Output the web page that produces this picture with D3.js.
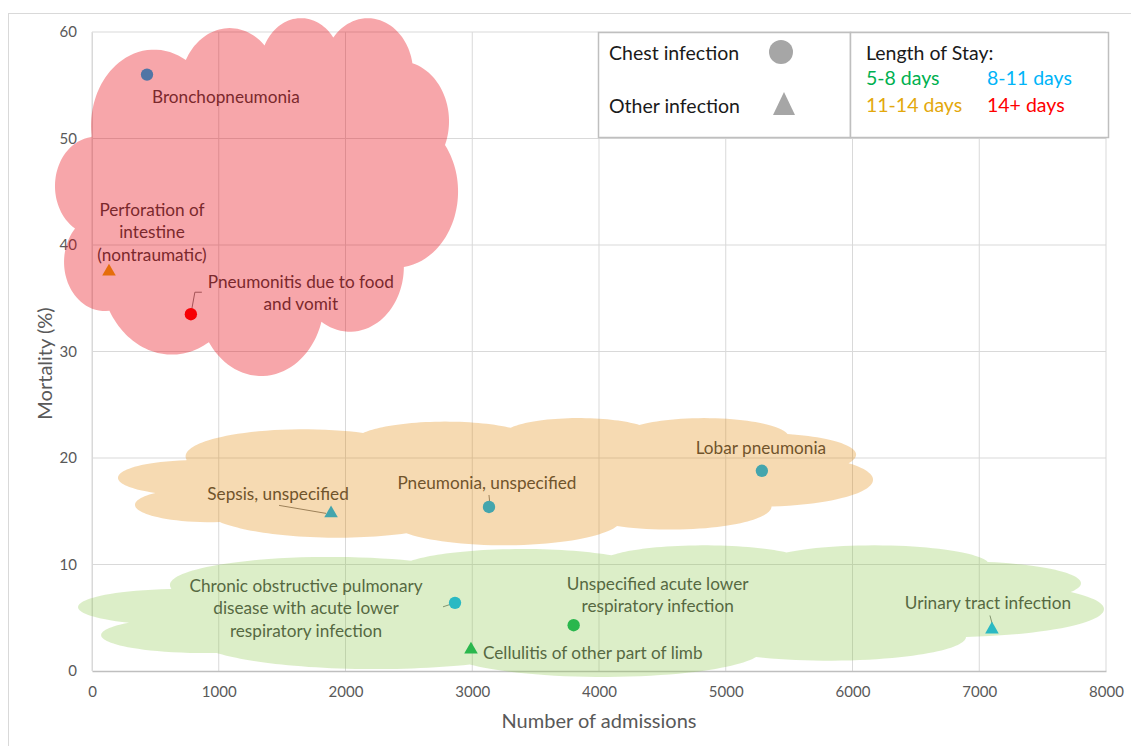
<!DOCTYPE html>
<html>
<head>
<meta charset="utf-8">
<script src="https://cdn.jsdelivr.net/npm/d3@7"></script>
<style>
  body { margin: 0; background: #fff; }
  text { font-family: Lato, "Open Sans", sans-serif; }
</style>
</head>
<body>
<script>
// data
const diagnoses = ["Bronchopneumonia", "Perforation of intestine (nontraumatic)", "Pneumonitis due to food and vomit",
  "Lobar pneumonia", "Pneumonia, unspecified", "Sepsis, unspecified",
  "Chronic obstructive pulmonary disease with acute lower respiratory infection",
  "Unspecified acute lower respiratory infection", "Urinary tract infection", "Cellulitis of other part of limb"];
const admissions = [434, 134, 780, 5285, 3132, 1886, 2864, 3800, 7100, 2990];
const mortality = [56.0, 37.5, 33.5, 18.8, 15.4, 14.8, 6.4, 4.3, 3.9, 2.0];
const infection = ["chest", "other", "chest", "chest", "chest", "other", "chest", "chest", "other", "other"];
const stay = ["8-11 days", "11-14 days", "14+ days", "8-11 days", "8-11 days", "8-11 days", "8-11 days", "5-8 days", "8-11 days", "5-8 days"];

const stayBands = ["5-8 days", "8-11 days", "11-14 days", "14+ days"];
const stayColors = ["#00B050", "#00B4F8", "#E3A80C", "#FF0000"];
const xTicks = [0, 1000, 2000, 3000, 4000, 5000, 6000, 7000, 8000];
const yTicks = [0, 10, 20, 30, 40, 50, 60];

// cloud bands drawn over the points (extent in data units)
const cloudX0 = [-292, 205, -110];
const cloudX1 = [2888, 6162, 7984];
const cloudY0 = [27.7, 11.8, -0.56];
const cloudY1 = [61.3, 23.75, 11.8];
const cloudFill = ["#E8000C", "#E08400", "#8AC648"];
const cloudAlpha = [0.35, 0.3, 0.3];

// label layout: offsets from each point in px
const labelLayout = [
  {lines: ["Bronchopneumonia"], dx: 5, dy: [22], anchor: "start"},
  {lines: ["Perforation of", "intestine", "(nontraumatic)"], dx: 43, dy: [-62, -40, -17], anchor: "middle"},
  {lines: ["Pneumonitis due to food", "and vomit"], dx: 110, dy: [-33, -11], anchor: "middle", leader: [[0, 0], [4, -22], [11, -22]]},
  {lines: ["Lobar pneumonia"], dx: -1, dy: [-23], anchor: "middle"},
  {lines: ["Pneumonia, unspecified"], dx: -2, dy: [-24], anchor: "middle", leader: [[0, -12], [1, -2]]},
  {lines: ["Sepsis, unspecified"], dx: -53, dy: [-20], anchor: "middle", leader: [[-52, -8], [-5, 0]]},
  {lines: ["Chronic obstructive pulmonary", "disease with acute lower", "respiratory infection"], dx: -149, dy: [-17, 5, 28], anchor: "middle", leader: [[-12, 4], [-3, 1]]},
  {lines: ["Unspecified acute lower", "respiratory infection"], dx: 84, dy: [-42, -20], anchor: "middle"},
  {lines: ["Urinary tract infection"], dx: -4, dy: [-27], anchor: "middle", leader: [[-2, -14], [1, -3]]},
  {lines: ["Cellulitis of other part of limb"], dx: 12, dy: [3], anchor: "start"}
];

const svgWidth = 1131, svgHeight = 746;
const plotLeft = 92, plotRight = 1106, plotTop = 32, plotBottom = 671;

const svg = d3.select("body").append("svg")
  .attr("width", svgWidth)
  .attr("height", svgHeight);

// outer chart border
svg.append("rect")
  .attr("x", 8.5).attr("y", 13.5)
  .attr("width", 1140).attr("height", 760)
  .attr("fill", "none").attr("stroke", "#D9D9D9");

const xScale = d3.scaleLinear().domain([0, 8000]).range([plotLeft, plotRight]);
const yScale = d3.scaleLinear().domain([0, 60]).range([plotBottom, plotTop]);
const stayColor = d3.scaleOrdinal().domain(stayBands).range(stayColors);

// grid
svg.append("g").selectAll("line").data(xTicks).join("line")
  .attr("x1", d => xScale(d)).attr("x2", d => xScale(d))
  .attr("y1", plotTop).attr("y2", plotBottom)
  .attr("stroke", "#D9D9D9");
svg.append("g").selectAll("line").data(yTicks.slice(1)).join("line")
  .attr("x1", plotLeft).attr("x2", plotRight)
  .attr("y1", d => yScale(d)).attr("y2", d => yScale(d))
  .attr("stroke", "#D9D9D9");

// axes
const xAxis = svg.append("g")
  .attr("transform", "translate(0," + plotBottom + ")")
  .call(d3.axisBottom(xScale).tickValues(xTicks).tickSize(0).tickPadding(15).tickFormat(d3.format("d")));
xAxis.select(".domain").attr("stroke", "#BFBFBF").attr("stroke-width", 1.5);
const yAxis = svg.append("g")
  .attr("transform", "translate(" + plotLeft + ",0)")
  .call(d3.axisLeft(yScale).tickValues(yTicks).tickSize(0).tickPadding(15));
yAxis.select(".domain").attr("stroke", "#D9D9D9");
svg.selectAll(".tick text")
  .attr("fill", "#595959")
  .style("font-size", "15px")
  .style("font-family", "Lato, sans-serif");

svg.append("text")
  .attr("x", (plotLeft + plotRight) / 2).attr("y", 720)
  .attr("text-anchor", "middle").attr("dominant-baseline", "central")
  .attr("fill", "#595959").style("font-size", "20px")
  .text("Number of admissions");
svg.append("text")
  .attr("transform", "translate(44," + ((plotTop + plotBottom) / 2 + 12) + ") rotate(-90)")
  .attr("text-anchor", "middle").attr("dominant-baseline", "central")
  .attr("fill", "#595959").style("font-size", "20px")
  .text("Mortality (%)");

// labels and leader lines
const points = diagnoses.map((d, i) => ({
  name: d, x: xScale(admissions[i]), y: yScale(mortality[i]),
  type: infection[i], stay: stay[i], lay: labelLayout[i]
}));

points.forEach(p => {
  if (p.lay.leader) {
    svg.append("path")
      .attr("d", d3.line()(p.lay.leader.map(q => [p.x + q[0], p.y + q[1]])))
      .attr("fill", "none").attr("stroke", "#7F7F7F").attr("stroke-width", 1);
  }
  p.lay.lines.forEach((line, j) => {
    svg.append("text")
      .attr("x", p.x + p.lay.dx).attr("y", p.y + p.lay.dy[j])
      .attr("text-anchor", p.lay.anchor).attr("dominant-baseline", "central")
      .attr("fill", "#404040").style("font-size", "17.2px")
      .text(line);
  });
});

// markers
const triangle = d3.symbol().type(d3.symbolTriangle).size(80);
svg.append("g").selectAll("path").data(points).join("path")
  .attr("d", d => d.type === "chest" ? d3.symbol().type(d3.symbolCircle).size(120)() : triangle())
  .attr("transform", d => "translate(" + d.x + "," + d.y + ")")
  .attr("fill", d => stayColor(d.stay));

// cloud outline (office preset "cloud" geometry, 43200 units)
function cloudOutline() {
  const arcs = [[6753, 9190, -11429249, 7426832], [5333, 7267, -8646143, 5396714], [4365, 5945, -8748475, 5983381],
    [4857, 6595, -7859164, 7034504], [5333, 7273, -4722533, 6541615], [6775, 9220, -2776035, 7816140],
    [5785, 7867, 37501, 6842000], [6752, 9215, 1347096, 6910353], [7720, 10543, 3974558, 4542661],
    [4360, 5918, -16496525, 8804134], [4345, 5945, -14809710, 9151131]];
  let cx = 3900, cy = 14370;
  const pts = [[cx, cy]];
  arcs.forEach(([wR, hR, st, sw]) => {
    const a0 = st / 60000 * Math.PI / 180, a1 = (st + sw) / 60000 * Math.PI / 180;
    const par = a => Math.atan2(wR * Math.sin(a), hR * Math.cos(a));
    const t0 = par(a0);
    const ox = cx - wR * Math.cos(t0), oy = cy - hR * Math.sin(t0);
    const n = 40;
    for (let i = 1; i <= n; i++) {
      const t = par(a0 + (a1 - a0) * i / n);
      cx = ox + wR * Math.cos(t); cy = oy + hR * Math.sin(t);
      pts.push([cx, cy]);
    }
  });
  return pts;
}
const outline = cloudOutline();
const ox = d3.extent(outline, d => d[0]), oy = d3.extent(outline, d => d[1]);

cloudFill.forEach((c, i) => {
  const sx = d3.scaleLinear().domain(ox).range([xScale(cloudX0[i]), xScale(cloudX1[i])]);
  const sy = d3.scaleLinear().domain(oy).range([yScale(cloudY1[i]), yScale(cloudY0[i])]);
  svg.append("path")
    .attr("d", d3.line().x(d => sx(d[0])).y(d => sy(d[1])).curve(d3.curveLinearClosed)(outline))
    .attr("fill", c).attr("fill-opacity", cloudAlpha[i]);
});

// legend boxes
const legend = svg.append("g");
legend.append("rect").attr("x", 598.5).attr("y", 32.5).attr("width", 252).attr("height", 105)
  .attr("fill", "#fff").attr("stroke", "#BFBFBF").attr("stroke-width", 1.5);
legend.append("rect").attr("x", 850.5).attr("y", 32.5).attr("width", 258).attr("height", 105)
  .attr("fill", "#fff").attr("stroke", "#BFBFBF").attr("stroke-width", 1.5);

legend.append("text").attr("x", 609).attr("y", 52).attr("dominant-baseline", "central")
  .attr("fill", "#1A1A1A").style("font-size", "19.5px").text("Chest infection");
legend.append("circle").attr("cx", 781).attr("cy", 52).attr("r", 12).attr("fill", "#A6A6A6");
legend.append("text").attr("x", 609).attr("y", 105).attr("dominant-baseline", "central")
  .attr("fill", "#1A1A1A").style("font-size", "19.5px").text("Other infection");
legend.append("path").attr("d", "M784,92L795,115L773,115Z").attr("fill", "#A6A6A6");

legend.append("text").attr("x", 866).attr("y", 52).attr("dominant-baseline", "central")
  .attr("fill", "#1A1A1A").style("font-size", "19.5px").text("Length of Stay:");
legend.selectAll(".band").data(stayBands).join("text")
  .attr("class", "band")
  .attr("x", (d, i) => i % 2 === 0 ? 866 : 987)
  .attr("y", (d, i) => i < 2 ? 77 : 104)
  .attr("dominant-baseline", "central")
  .attr("fill", d => stayColor(d))
  .style("font-size", "19.5px")
  .text(d => d);
</script>
</body>
</html>
